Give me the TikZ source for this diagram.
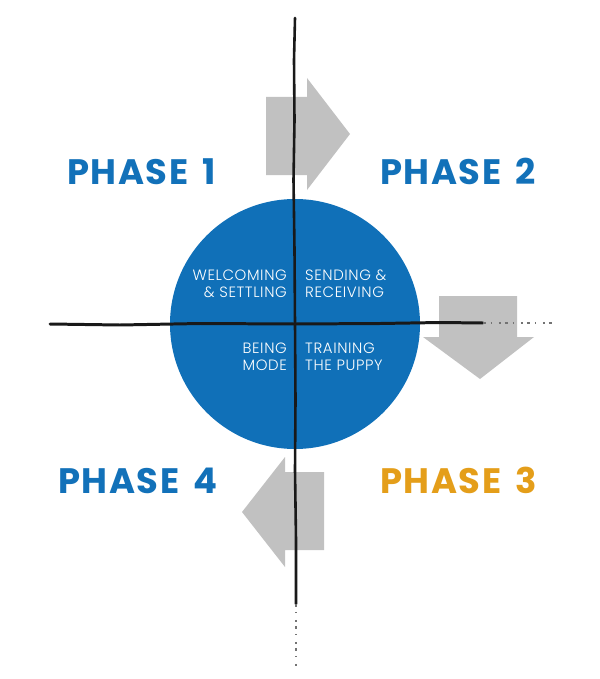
\documentclass[tikz,border=0pt]{standalone}
\usepackage{fontspec}
\setmainfont{Poppins}
\newfontfamily\phasefont{Poppins}[UprightFont=* Bold, LetterSpace=4.5]
\newfontfamily\lightfont{Poppins}[UprightFont=* Light, LetterSpace=4]
\definecolor{cblue}{HTML}{1070B8}
\definecolor{pblue}{HTML}{1271B9}
\definecolor{porange}{HTML}{E49E1A}
\definecolor{agray}{HTML}{C1C1C1}
\newcommand{\phgap}{\hspace{14bp}}
\tikzset{
  phase/.style={font=\phasefont\fontsize{35.5}{38}\selectfont, inner sep=0pt, anchor=base west},
  inner/.style={font=\lightfont\fontsize{15}{17}\selectfont, text=white, inner sep=0pt},
  garrow/.style={fill=agray, draw=none},
  rough/.style={draw=black!90, line width=2.6pt, line cap=round, line join=round},
  faint/.style={draw=black!55, line width=1.2pt, dash pattern=on 3pt off 5pt on 1pt off 7pt on 2pt off 4pt}
}
\begin{document}
\begin{tikzpicture}[x=1bp,y=-1bp]
\useasboundingbox (0,0) rectangle (600,679);
% circle
\fill[cblue] (295,324) circle (125);
\node[inner sep=0pt, minimum size=250bp, circle] (circ) at (295,324) {};
% arrows
\fill[garrow] (266,97) -- (307,97) -- (307,78) -- (350,134) -- (307,190) -- (307,175) -- (266,175) -- cycle;
\fill[garrow] (439,296) -- (517,296) -- (517,337) -- (534,337) -- (480,379) -- (423,337) -- (439,337) -- cycle;
\fill[garrow] (324,472) -- (285,472) -- (285,457) -- (242,512) -- (285,567) -- (285,550) -- (324,550) -- cycle;
% cross lines
\coordinate (vtop) at (295,18);
\coordinate (vbot) at (296,604);
\coordinate (vend) at (296,668);
\coordinate (hleft) at (50,324);
\coordinate (hright) at (483,323);
\coordinate (hend) at (552,323);
\draw[rough] (vtop) -- (294,60) -- (294.5,120) -- (293.5,180) -- (294.5,250) -- (295,324) -- (295.5,400) -- (295,470) -- (296,540) -- (vbot);
\draw[faint] (vbot) -- (vend);
\draw[rough, line width=3pt] (hleft) -- (120,325) -- (200,323.5) -- (295,324) -- (380,323.5) -- (440,322.5) -- (hright);
\draw[faint] (hright) -- (hend);
% inner texts
\node[inner, anchor=base east] (w1) at (287,280) {WELCOMING};
\node[inner, anchor=base east] (w2) at (287,297) {\& SETTLING};
\node[inner, anchor=base west] (s1) at (305,280) {SENDING \&};
\node[inner, anchor=base west] (s2) at (305,297) {RECEIVING};
\node[inner, anchor=base east] (b1) at (287,353) {BEING};
\node[inner, anchor=base east] (b2) at (287,370) {MODE};
\node[inner, anchor=base west] (t1) at (305,353) {TRAINING};
\node[inner, anchor=base west] (t2) at (305,370) {THE PUPPY};
% phase labels
\node[phase, text=pblue] (p1) at (67,184) {PHASE\phgap 1};
\node[phase, text=pblue] (p2) at (380,184) {PHASE\phgap 2};
\node[phase, text=porange] (p3) at (380,493) {PHASE\phgap 3};
\node[phase, text=pblue] (p4) at (58,493) {PHASE\phgap 4};
\end{tikzpicture}
\end{document}
